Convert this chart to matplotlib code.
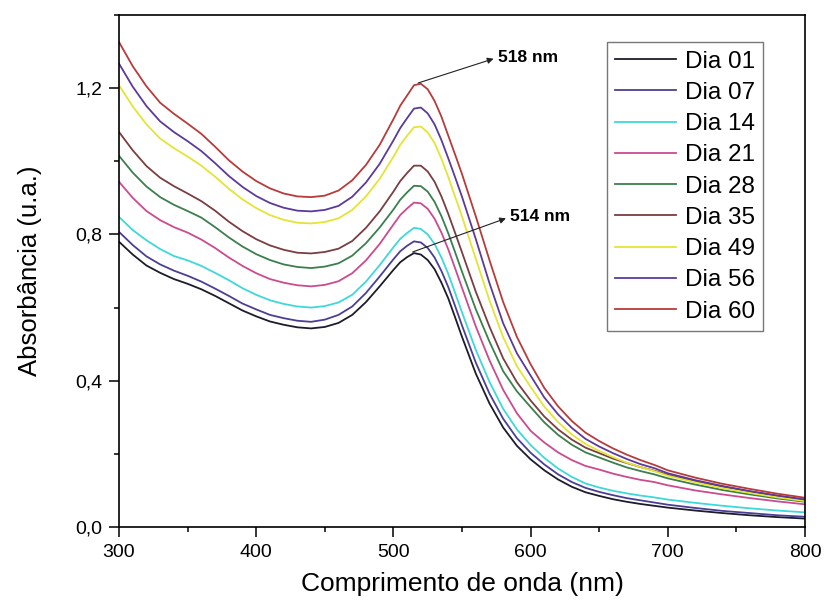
import matplotlib
matplotlib.use("Agg")
from matplotlib import pyplot as plt
from matplotlib.ticker import MultipleLocator, FixedLocator

plt.rcParams['font.family'] = ['Liberation Sans', 'DejaVu Sans']

# wavelength grid (nm)
wavelength = [300, 310, 320, 330, 340, 350, 360, 370, 380, 390,
              400, 410, 420, 430, 440, 450, 460, 470, 480, 490,
              500, 505, 510, 515, 520, 525, 530, 535, 540, 545,
              550, 560, 570, 580, 590, 600, 610, 620, 630, 640,
              650, 660, 670, 680, 690, 700, 720, 740, 760, 780, 800]

# absorbance, one list per day
dia01 = [0.780, 0.745, 0.715, 0.695, 0.678, 0.665, 0.650, 0.632, 0.612, 0.592,
         0.576, 0.562, 0.553, 0.546, 0.543, 0.547, 0.558, 0.580, 0.615, 0.658,
         0.703, 0.724, 0.738, 0.749, 0.745, 0.730, 0.705, 0.668, 0.625, 0.573,
         0.520, 0.420, 0.338, 0.272, 0.222, 0.185, 0.155, 0.130, 0.110, 0.095,
         0.085, 0.076, 0.069, 0.063, 0.058, 0.053, 0.045, 0.038, 0.032, 0.027, 0.023]
dia07 = [0.807, 0.771, 0.740, 0.718, 0.701, 0.687, 0.671, 0.652, 0.632, 0.611,
         0.595, 0.580, 0.571, 0.564, 0.561, 0.567, 0.580, 0.603, 0.640, 0.685,
         0.732, 0.754, 0.769, 0.781, 0.778, 0.763, 0.737, 0.700, 0.656, 0.604,
         0.551, 0.450, 0.365, 0.296, 0.243, 0.203, 0.171, 0.144, 0.123, 0.107,
         0.096, 0.087, 0.079, 0.073, 0.067, 0.061, 0.052, 0.044, 0.038, 0.032, 0.028]
dia14 = [0.848, 0.812, 0.784, 0.760, 0.741, 0.729, 0.714, 0.695, 0.675, 0.653,
         0.635, 0.620, 0.610, 0.603, 0.600, 0.604, 0.614, 0.635, 0.671, 0.716,
         0.765, 0.788, 0.804, 0.818, 0.815, 0.800, 0.774, 0.737, 0.692, 0.640,
         0.587, 0.485, 0.397, 0.323, 0.267, 0.224, 0.189, 0.160, 0.137, 0.119,
         0.108, 0.099, 0.092, 0.086, 0.081, 0.075, 0.066, 0.058, 0.051, 0.045, 0.040]
dia21 = [0.944, 0.900, 0.864, 0.839, 0.820, 0.805, 0.786, 0.763, 0.737, 0.714,
         0.694, 0.678, 0.668, 0.661, 0.658, 0.662, 0.672, 0.694, 0.729, 0.774,
         0.827, 0.853, 0.871, 0.887, 0.885, 0.870, 0.843, 0.805, 0.759, 0.707,
         0.654, 0.549, 0.456, 0.375, 0.311, 0.263, 0.231, 0.204, 0.183, 0.167,
         0.157, 0.146, 0.137, 0.129, 0.123, 0.114, 0.100, 0.089, 0.079, 0.070, 0.062]
dia28 = [1.015, 0.969, 0.931, 0.902, 0.881, 0.864, 0.846, 0.820, 0.792, 0.767,
         0.746, 0.730, 0.718, 0.711, 0.708, 0.712, 0.721, 0.742, 0.776, 0.819,
         0.868, 0.895, 0.915, 0.933, 0.932, 0.917, 0.889, 0.850, 0.803, 0.751,
         0.698, 0.596, 0.507, 0.426, 0.371, 0.328, 0.286, 0.252, 0.225, 0.204,
         0.190, 0.176, 0.163, 0.153, 0.144, 0.133, 0.116, 0.101, 0.089, 0.078, 0.069]
dia35 = [1.080, 1.030, 0.987, 0.955, 0.932, 0.912, 0.891, 0.865, 0.835, 0.809,
         0.787, 0.770, 0.758, 0.750, 0.748, 0.752, 0.761, 0.782, 0.818, 0.863,
         0.917, 0.946, 0.968, 0.988, 0.988, 0.972, 0.944, 0.904, 0.856, 0.804,
         0.751, 0.644, 0.548, 0.461, 0.396, 0.346, 0.302, 0.267, 0.239, 0.217,
         0.202, 0.187, 0.175, 0.164, 0.154, 0.143, 0.125, 0.110, 0.097, 0.085, 0.075]
dia49 = [1.208, 1.150, 1.101, 1.062, 1.036, 1.013, 0.988, 0.958, 0.925, 0.896,
         0.872, 0.853, 0.840, 0.832, 0.830, 0.834, 0.844, 0.867, 0.904, 0.952,
         1.012, 1.045, 1.070, 1.093, 1.095, 1.079, 1.050, 1.007, 0.957, 0.903,
         0.849, 0.734, 0.620, 0.519, 0.440, 0.383, 0.329, 0.287, 0.253, 0.227,
         0.208, 0.191, 0.176, 0.164, 0.153, 0.140, 0.122, 0.106, 0.093, 0.081, 0.071]
dia56 = [1.267, 1.204, 1.151, 1.109, 1.080, 1.055, 1.028, 0.995, 0.960, 0.930,
         0.905, 0.886, 0.873, 0.865, 0.863, 0.867, 0.878, 0.903, 0.942, 0.993,
         1.057, 1.091, 1.118, 1.144, 1.147, 1.131, 1.101, 1.058, 1.008, 0.956,
         0.903, 0.788, 0.667, 0.557, 0.475, 0.414, 0.354, 0.308, 0.271, 0.241,
         0.220, 0.202, 0.186, 0.172, 0.161, 0.147, 0.128, 0.112, 0.098, 0.086, 0.075]
dia60 = [1.326, 1.260, 1.205, 1.160, 1.130, 1.103, 1.075, 1.040, 1.003, 0.972,
         0.946, 0.926, 0.912, 0.904, 0.902, 0.906, 0.920, 0.948, 0.990, 1.045,
         1.115, 1.152, 1.180, 1.208, 1.212, 1.197, 1.165, 1.122, 1.070, 1.018,
         0.965, 0.850, 0.730, 0.615, 0.520, 0.445, 0.380, 0.330, 0.290, 0.258,
         0.235, 0.215, 0.198, 0.183, 0.170, 0.155, 0.135, 0.118, 0.104, 0.091, 0.080]

series = [dia01, dia07, dia14, dia21, dia28, dia35, dia49, dia56, dia60]
labels = ['Dia 01', 'Dia 07', 'Dia 14', 'Dia 21', 'Dia 28',
          'Dia 35', 'Dia 49', 'Dia 56', 'Dia 60']
colors = ['#1c1c2a', '#4a3f94', '#3fd8d8', '#cc4a8e', '#3a7f4c',
          '#7a3e40', '#e4e436', '#5b3a9c', '#b83b3b']

y_ticks = [0.0, 0.4, 0.8, 1.2]
y_tick_labels = ['0,0', '0,4', '0,8', '1,2']
x_ticks = [300, 400, 500, 600, 700, 800]

fig = plt.figure(figsize=(8.27, 6.07), dpi=100)
ax = fig.add_axes([0.1439, 0.1318, 0.8295, 0.8435])

for values, label, color in zip(series, labels, colors):
    ax.plot(wavelength, values, color=color, lw=1.3, label=label)

ax.set_xlim(300, 800)
ax.set_ylim(0, 1.4)
ax.xaxis.set_major_locator(FixedLocator(x_ticks))
ax.xaxis.set_minor_locator(MultipleLocator(50))
ax.yaxis.set_major_locator(FixedLocator(y_ticks))
ax.set_yticklabels(y_tick_labels)
ax.yaxis.set_minor_locator(MultipleLocator(0.2))
ax.tick_params(which='major', direction='out', length=7, width=1.1,
               labelsize=14, pad=5, top=False, right=False)
ax.tick_params(which='minor', direction='out', length=3.5, width=1.1,
               top=False, right=False)
for sp in ax.spines.values():
    sp.set_linewidth(1.2)

ax.set_xlabel("Comprimento de onda (nm)", fontsize=19, labelpad=8)
ax.set_ylabel("Absorbância (u.a.)", fontsize=18.5, labelpad=24)

# peak annotations (arrowhead at the text side)
ax.annotate('518 nm', xy=(518, 1.214), xytext=(576, 1.284),
            fontsize=12.5, fontweight='bold', ha='left', va='center',
            arrowprops=dict(arrowstyle='<|-', color='#222222', lw=0.8,
                            mutation_scale=9, shrinkA=1, shrinkB=0,
                            relpos=(0, 0.5)), zorder=5)
ax.annotate('514 nm', xy=(514, 0.752), xytext=(585, 0.848),
            fontsize=12.5, fontweight='bold', ha='left', va='center',
            arrowprops=dict(arrowstyle='<|-', color='#222222', lw=0.8,
                            mutation_scale=9, shrinkA=1, shrinkB=0,
                            relpos=(0, 0.5)), zorder=5)

leg = ax.legend(loc='upper right', bbox_to_anchor=(0.939, 0.947),
                borderaxespad=0, fontsize=17.5, handlelength=2.5,
                handletextpad=0.35, labelspacing=0.38, borderpad=0.35,
                fancybox=False, framealpha=1)
leg.get_frame().set_edgecolor('#777777')
leg.get_frame().set_linewidth(1.0)

plt.savefig('out.png', dpi=100)
